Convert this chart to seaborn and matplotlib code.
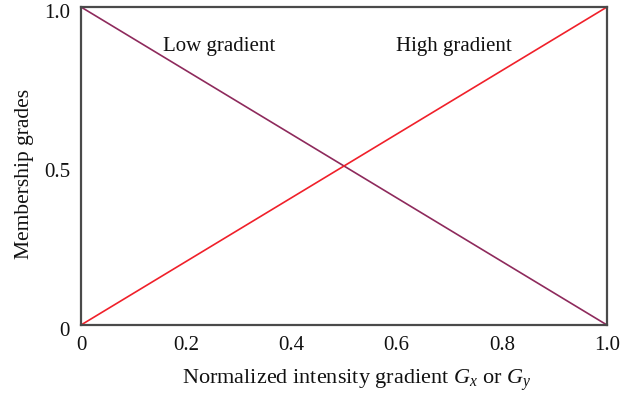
import matplotlib
matplotlib.use("Agg")
import matplotlib.pyplot as plt
import matplotlib.transforms as mtransforms
import seaborn as sns
import pandas as pd

x_vals = [0.0, 1.0]
low_vals = [1.0, 0.0]
high_vals = [0.0, 1.0]
xticks = [0, 0.2, 0.4, 0.6, 0.8, 1.0]
xtick_labels = ["0", "0.2", "0.4", "0.6", "0.8", "1.0"]
yticks = [0, 0.5, 1.0]
ytick_labels = ["0", "0.5", "1.0"]

sns.set_style("white")
plt.rcParams['font.family'] = ['Liberation Serif', 'DejaVu Serif']
plt.rcParams['mathtext.fontset'] = 'custom'
plt.rcParams['mathtext.it'] = 'Liberation Serif:italic'
plt.rcParams['mathtext.rm'] = 'Liberation Serif'

fig = plt.figure(figsize=(6.38, 3.94), dpi=100)
ax = fig.add_axes([81/638, 1 - 325/394, (607-81)/638, (325-7)/394])

df = pd.DataFrame({"x": x_vals, "low": low_vals, "high": high_vals})
sns.lineplot(data=df, x="x", y="low", ax=ax, color="#8e2a5c", linewidth=1.2)
sns.lineplot(data=df, x="x", y="high", ax=ax, color="#f0202a", linewidth=1.2)

ax.set_xlim(0, 1)
ax.set_ylim(0, 1)
ax.set_xticks(xticks)
ax.set_xticklabels(xtick_labels)
ax.set_yticks(yticks)
ax.set_yticklabels(ytick_labels)
ax.tick_params(axis='both', length=0, labelsize=15, colors="#111111")
ax.tick_params(axis='x', pad=8)
ax.tick_params(axis='y', pad=8)
offset = mtransforms.ScaledTranslation(0, -4/100, fig.dpi_scale_trans)
for lbl in ax.get_yticklabels():
    lbl.set_transform(lbl.get_transform() + offset)
for s in ax.spines.values():
    s.set_color("#4a4a4a")
    s.set_linewidth(1.6)

ax.set_xlabel(r"Normalized intensity gradient $G_x$ or $G_y$", fontsize=16, color="#111111")
ax.set_ylabel("Membership grades", fontsize=15.5, color="#111111")
ax.xaxis.label.set_verticalalignment('center')
ax.yaxis.label.set_verticalalignment('center')
ax.xaxis.set_label_coords((357-81)/526, (325-380)/318)
ax.yaxis.set_label_coords((25-81)/526, (325-174)/318)

ax.text(0.156, 0.877, "Low gradient", fontsize=15, color="#111111", va="center", ha="left")
ax.text(0.598, 0.877, "High gradient", fontsize=15, color="#111111", va="center", ha="left")

fig.savefig("out.png", dpi=100)
